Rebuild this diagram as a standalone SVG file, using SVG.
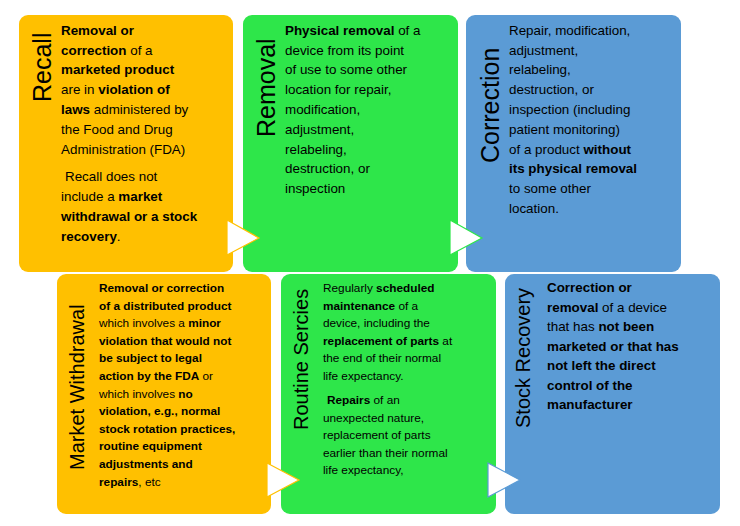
<svg xmlns="http://www.w3.org/2000/svg" width="740" height="526" viewBox="0 0 740 526">
<style>
.o{fill:#FFC000}.g{fill:#2EE64A}.b{fill:#5B9BD5}
text{font-family:"Liberation Sans",Arial,sans-serif;fill:#000}
.t{font-size:13.4px}.s{font-size:11.8px}
.h{font-size:25px}.h2{font-size:20px}
.bd{font-weight:bold}
.ar{fill:#fff;stroke-width:1.2}
</style>
<rect width="740" height="526" fill="#fff"/>
<g id="recall"><rect class="o" x="19" y="15" width="214" height="257" rx="9"/>
<text class="h" transform="translate(51,102) rotate(-90)">Recall</text>
<text class="t" x="61"><tspan x="61" y="35" class="bd">Removal or</tspan><tspan x="61" y="55"><tspan class="bd">correction</tspan> of a</tspan><tspan x="61" y="74" class="bd">marketed product</tspan><tspan x="61" y="94">are in <tspan class="bd">violation of</tspan></tspan><tspan x="61" y="114"><tspan class="bd">laws</tspan> administered by</tspan><tspan x="61" y="134">the Food and Drug</tspan><tspan x="61" y="154">Administration (FDA)</tspan><tspan x="65" y="181">Recall does not</tspan><tspan x="61" y="201">include a <tspan class="bd">market</tspan></tspan><tspan x="61" y="221" class="bd">withdrawal or a stock</tspan><tspan x="61" y="241"><tspan class="bd">recovery</tspan>.</tspan></text></g>
<g id="removal"><rect class="g" x="243" y="15" width="215" height="257" rx="9"/>
<text class="h" transform="translate(275,137) rotate(-90)">Removal</text>
<text class="t"><tspan x="285" y="35"><tspan class="bd">Physical removal</tspan> of a</tspan><tspan x="285" y="55">device from its point</tspan><tspan x="285" y="74">of use to some other</tspan><tspan x="285" y="94">location for repair,</tspan><tspan x="285" y="114">modification,</tspan><tspan x="285" y="134">adjustment,</tspan><tspan x="285" y="154">relabeling,</tspan><tspan x="285" y="173">destruction, or</tspan><tspan x="285" y="193">inspection</tspan></text></g>
<g id="correction"><rect class="b" x="466" y="15" width="215" height="257" rx="9"/>
<text class="h" transform="translate(499,163) rotate(-90)">Correction</text>
<text class="t"><tspan x="509" y="35">Repair, modification,</tspan><tspan x="509" y="55">adjustment,</tspan><tspan x="509" y="74">relabeling,</tspan><tspan x="509" y="94">destruction, or</tspan><tspan x="509" y="114">inspection (including</tspan><tspan x="509" y="134">patient monitoring)</tspan><tspan x="509" y="154">of a product <tspan class="bd">without</tspan></tspan><tspan x="509" y="173" class="bd">its physical removal</tspan><tspan x="509" y="193">to some other</tspan><tspan x="509" y="213">location.</tspan></text></g>
<g id="market-withdrawal"><rect class="o" x="57" y="274" width="214" height="240" rx="9"/>
<text class="h2" transform="translate(84,470) rotate(-90)">Market Withdrawal</text>
<text class="s"><tspan x="99" y="292" class="bd">Removal or correction</tspan><tspan x="99" y="309.6" class="bd">of a distributed product</tspan><tspan x="99" y="327.2">which involves a <tspan class="bd">minor</tspan></tspan><tspan x="99" y="344.8" class="bd">violation that would not</tspan><tspan x="99" y="362.4" class="bd">be subject to legal</tspan><tspan x="99" y="380" class="bd">action by the FDA<tspan font-weight="normal"> or</tspan></tspan><tspan x="99" y="397.6">which involves <tspan class="bd">no</tspan></tspan><tspan x="99" y="415.2" class="bd">violation, e.g., normal</tspan><tspan x="99" y="432.8" class="bd">stock rotation practices,</tspan><tspan x="99" y="450.4" class="bd">routine equipment</tspan><tspan x="99" y="468" class="bd">adjustments and</tspan><tspan x="99" y="485.6"><tspan class="bd">repairs</tspan>, etc</tspan></text></g>
<g id="routine-sercies"><rect class="g" x="281" y="274" width="215" height="240" rx="9"/>
<text class="h2" transform="translate(308,430) rotate(-90)">Routine Sercies</text>
<text class="s"><tspan x="323" y="292">Regularly <tspan class="bd">scheduled</tspan></tspan><tspan x="323" y="309.6"><tspan class="bd">maintenance</tspan> of a</tspan><tspan x="323" y="327.2">device, including the</tspan><tspan x="323" y="344.8"><tspan class="bd">replacement of parts</tspan> at</tspan><tspan x="323" y="362.4">the end of their normal</tspan><tspan x="323" y="380">life expectancy.</tspan><tspan x="327" y="404"><tspan class="bd">Repairs</tspan> of an</tspan><tspan x="323" y="421.6">unexpected nature,</tspan><tspan x="323" y="439.2">replacement of parts</tspan><tspan x="323" y="456.8">earlier than their normal</tspan><tspan x="323" y="474.4">life expectancy,</tspan></text></g>
<g id="stock-recovery"><rect class="b" x="505" y="274" width="215" height="240" rx="9"/>
<text class="h2" transform="translate(530,428) rotate(-90)">Stock Recovery</text>
<text class="t"><tspan x="547" y="292" class="bd">Correction or</tspan><tspan x="547" y="311.5"><tspan class="bd">removal</tspan> of a device</tspan><tspan x="547" y="331">that has <tspan class="bd">not been</tspan></tspan><tspan x="547" y="350.5" class="bd">marketed or that has</tspan><tspan x="547" y="370" class="bd">not left the direct</tspan><tspan x="547" y="389.5" class="bd">control of the</tspan><tspan x="547" y="409" class="bd">manufacturer</tspan></text></g>
<g id="connectors">
<polygon class="ar" stroke="#FFC000" points="227,220 259,238 227,255"/>
<polygon class="ar" stroke="#2EE64A" points="450,220 482,238 450,255"/>
<polygon class="ar" stroke="#FFC000" points="267,463 299,480 267,497"/>
<polygon class="ar" stroke="#5B9BD5" points="488,463 520,480 488,497"/>
</g>
</svg>
